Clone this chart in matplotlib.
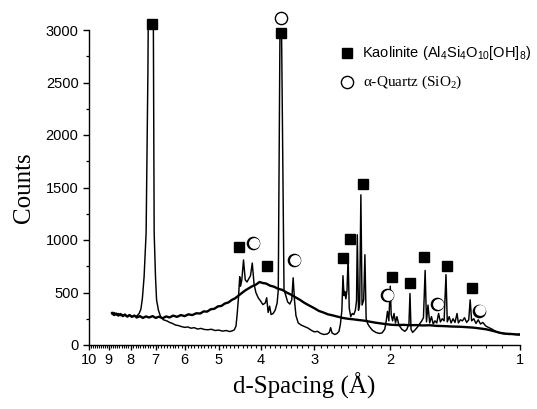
import matplotlib
matplotlib.use('Agg')
import matplotlib.pyplot as plt
from matplotlib.ticker import FixedLocator, NullFormatter, FixedFormatter
import matplotlib.transforms as mtransforms

plt.rcParams['font.family'] = ['Liberation Sans', 'DejaVu Sans']

# ---- crystalline kaolinite pattern (d-spacing in Angstrom, counts) ----
kaol_d = [8.84, 8.75, 8.65, 8.55, 8.45, 8.35, 8.2, 8.05, 7.95, 7.85, 7.75, 7.65, 7.58, 7.52,
          7.45, 7.37, 7.30, 7.22, 7.17, 7.12, 7.06, 7.01, 6.97, 6.90, 6.82, 6.72, 6.6, 6.5,
          6.4, 6.3, 6.2, 6.1, 6.0, 5.9, 5.8, 5.7, 5.6, 5.5, 5.4, 5.3, 5.2, 5.1, 5.0, 4.9,
          4.8, 4.72, 4.65, 4.6, 4.56, 4.53, 4.50, 4.47, 4.45, 4.42, 4.38, 4.34, 4.30, 4.26,
          4.22, 4.18, 4.14, 4.10, 4.05, 4.00, 3.95, 3.90, 3.87, 3.84, 3.81, 3.78, 3.74, 3.70,
          3.66, 3.638, 3.605, 3.588, 3.575, 3.528, 3.50, 3.46, 3.42, 3.385, 3.36, 3.335, 3.31,
          3.27, 3.22, 3.16, 3.10, 3.05, 3.00, 2.95, 2.90, 2.85, 2.80, 2.77, 2.75, 2.73, 2.69,
          2.66, 2.63, 2.61, 2.59, 2.575, 2.56, 2.55, 2.535, 2.52, 2.505, 2.49, 2.47, 2.45,
          2.43, 2.41, 2.395, 2.385, 2.37, 2.355, 2.34, 2.325, 2.305, 2.29, 2.275, 2.255, 2.23,
          2.20, 2.16, 2.12, 2.09, 2.06, 2.045, 2.03, 2.015, 2.00, 1.99, 1.975, 1.96, 1.945,
          1.93, 1.91, 1.88, 1.85, 1.83, 1.81, 1.80, 1.79, 1.775, 1.755, 1.73, 1.71, 1.69,
          1.675, 1.66, 1.648, 1.635, 1.62, 1.605, 1.59, 1.575, 1.56, 1.545, 1.53, 1.515, 1.50,
          1.485, 1.475, 1.46, 1.445, 1.43, 1.415, 1.40, 1.39, 1.375, 1.36, 1.345, 1.33, 1.315,
          1.305, 1.295, 1.28, 1.265, 1.25, 1.235, 1.22, 1.20, 1.18, 1.16, 1.14, 1.12, 1.10,
          1.08, 1.06, 1.04, 1.02, 1.00]
kaol_counts = [295, 310, 285, 300, 280, 290, 275, 285, 270, 280, 275, 300, 340, 440,
               650, 1070, 2600, 5500, 6000, 5000, 1070, 650, 430, 330, 270, 240, 230, 215,
               205, 190, 185, 175, 168, 172, 160, 165, 152, 158, 148, 145, 150, 138, 142, 132,
               138, 128, 135, 145, 180, 300, 450, 650, 560, 620, 810, 620, 600, 630,
               660, 780, 580, 500, 450, 420, 385, 400, 450, 310, 370, 290, 300, 330,
               400, 524, 3000, 3700, 3000, 524, 480, 410, 390, 430, 640, 420, 280,
               210, 190, 175, 160, 140, 125, 130, 110, 100, 105, 120, 165, 115, 100,
               108, 130, 200, 330, 660, 470, 510, 440, 520, 830, 350, 270, 300,
               290, 330, 420, 1050, 330, 390, 1430, 380, 430, 860, 250, 200, 170,
               140, 120, 110, 115, 150, 220, 320, 230, 560, 290, 230, 300, 210,
               270, 190, 150, 130, 150, 200, 490, 150, 120, 140, 170, 200, 230,
               260, 710, 220, 380, 210, 270, 200, 230, 210, 300, 220, 250, 230,
               670, 220, 270, 210, 250, 215, 300, 210, 240, 230, 260, 215, 240,
               430, 230, 250, 205, 240, 200, 215, 180, 165, 150, 130, 118, 110,
               105, 100, 108, 100, 105]

# ---- amorphous (broad hump) pattern ----
amor_d = [8.84, 8.75, 8.65, 8.55, 8.45, 8.35, 8.25, 8.15, 8.05, 7.95, 7.85, 7.75, 7.62, 7.5,
          7.38, 7.25, 7.12, 7.0, 6.88, 6.75, 6.62, 6.5, 6.38, 6.25, 6.12, 6.0, 5.88, 5.76,
          5.64, 5.52, 5.42, 5.32, 5.22, 5.12, 5.02, 4.93, 4.84, 4.75, 4.66, 4.58, 4.50, 4.42,
          4.34, 4.26, 4.18, 4.10, 4.02, 3.95, 3.88, 3.80, 3.72, 3.64, 3.56, 3.48, 3.40, 3.32,
          3.24, 3.16, 3.08, 3.00, 2.93, 2.86, 2.79, 2.72, 2.65, 2.58, 2.51, 2.44, 2.37, 2.30,
          2.23, 2.16, 2.10, 2.04, 1.98, 1.92, 1.86, 1.80, 1.74, 1.68, 1.62, 1.56, 1.50, 1.44,
          1.38, 1.33, 1.28, 1.24, 1.20, 1.17, 1.14, 1.11, 1.08, 1.05, 1.02, 1.00]
amor_counts = [305, 285, 300, 280, 295, 275, 290, 270, 285, 268, 280, 262, 275, 258,
               272, 262, 275, 258, 270, 255, 272, 262, 280, 268, 285, 275, 292, 285,
               302, 300, 320, 318, 340, 345, 368, 372, 395, 405, 430, 445, 470, 495,
               520, 540, 560, 575, 600, 590, 585, 565, 555, 535, 525, 500, 480, 455,
               430, 400, 375, 350, 325, 310, 292, 282, 270, 258, 250, 245, 238, 232,
               222, 212, 205, 198, 192, 190, 192, 188, 190, 186, 188, 182, 180, 176,
               174, 170, 165, 158, 150, 140, 128, 115, 108, 105, 100, 98]

# ---- peak assignment markers ----
kaol_mark_d = [7.15, 3.585, 4.48, 3.87, 2.58, 2.48, 2.31, 1.985, 1.80, 1.667, 1.48, 1.295]
kaol_mark_counts = [3057, 2968, 936, 752, 826, 1006, 1533, 651, 587, 841, 752, 546]
quartz_mark_d = [3.585, 4.16, 3.34, 2.03, 1.555, 1.243]
quartz_mark_counts = [3111, 968, 810, 476, 387, 327]

x_ticks = [10, 9, 8, 7, 6, 5, 4, 3, 2, 1]
x_minor = [round(1 + 0.1 * i, 1) for i in range(1, 90) if i % 10]
y_ticks = [0, 500, 1000, 1500, 2000, 2500, 3000]
y_minor = [250, 750, 1250, 1750, 2250, 2750]

fig = plt.figure(figsize=(5.37, 4.09), dpi=100)
ax = fig.add_axes([89 / 537, 1 - 345 / 409, 431 / 537, 315 / 409])

ax.plot(amor_d, amor_counts, color='black', lw=1.7)
ax.plot(kaol_d, kaol_counts, color='black', lw=1.05)

ax.set_xscale('log')
ax.set_xlim(10, 1)
ax.set_ylim(0, 3000)
ax.xaxis.set_major_locator(FixedLocator(x_ticks))
ax.xaxis.set_major_formatter(FixedFormatter([str(t) for t in x_ticks]))
ax.xaxis.set_minor_locator(FixedLocator(x_minor))
ax.xaxis.set_minor_formatter(NullFormatter())
ax.yaxis.set_major_locator(FixedLocator(y_ticks))
ax.yaxis.set_minor_locator(FixedLocator(y_minor))

for s in ['top', 'right']:
    ax.spines[s].set_visible(False)
for s in ['left', 'bottom']:
    ax.spines[s].set_linewidth(1.0)

ax.tick_params(axis='both', which='major', direction='out', labelsize=10.5, width=1.0)
ax.tick_params(axis='y', which='major', length=4.5, pad=3)
ax.tick_params(axis='y', which='minor', length=2.5, width=0.9)
ax.tick_params(axis='x', which='major', length=3.5, pad=2)
ax.tick_params(axis='x', which='minor', length=2.0, width=0.8)

ax.set_xlabel('d-Spacing (Å)', family=['Liberation Serif'], fontsize=18, labelpad=4)
ax.set_ylabel('Counts', family=['Liberation Serif'], fontsize=18, labelpad=8)

# markers
ax.plot(kaol_mark_d, kaol_mark_counts, 's', ms=7, color='black', clip_on=False, zorder=5)
ax.plot(quartz_mark_d, quartz_mark_counts, 'o', ms=8.8, mfc='black', mec='black',
        clip_on=False, zorder=5)
off = mtransforms.offset_copy(ax.transData, fig=fig, x=0.3, y=0.3, units='points')
ax.plot(quartz_mark_d, quartz_mark_counts, 'o', ms=7.8, mfc='white', mec='none',
        clip_on=False, zorder=6, transform=off)

# custom legend
ax.plot([0.598], [0.927], 's', ms=7, color='black', transform=ax.transAxes, clip_on=False)
ax.plot([0.598], [0.835], 'o', ms=8.8, mfc='black', mec='black', transform=ax.transAxes,
        clip_on=False)
offa = mtransforms.offset_copy(ax.transAxes, fig=fig, x=0.3, y=0.3, units='points')
ax.plot([0.598], [0.835], 'o', ms=7.8, mfc='white', mec='none', transform=offa,
        clip_on=False, zorder=6)
ax.text(0.633, 0.927, r'Kaolinite (Al$\mathregular{_4}$Si$\mathregular{_4}$O$\mathregular{_{10}}$[OH]$\mathregular{_8}$)',
        transform=ax.transAxes, fontsize=10.5, va='center', ha='left',
        family=['Liberation Sans'])
ax.text(0.636, 0.835, r'α-Quartz (SiO$\mathregular{_2}$)', transform=ax.transAxes,
        fontsize=11, va='center', ha='left', family=['Liberation Serif', 'DejaVu Serif'])

fig.savefig('out.png', dpi=100)
